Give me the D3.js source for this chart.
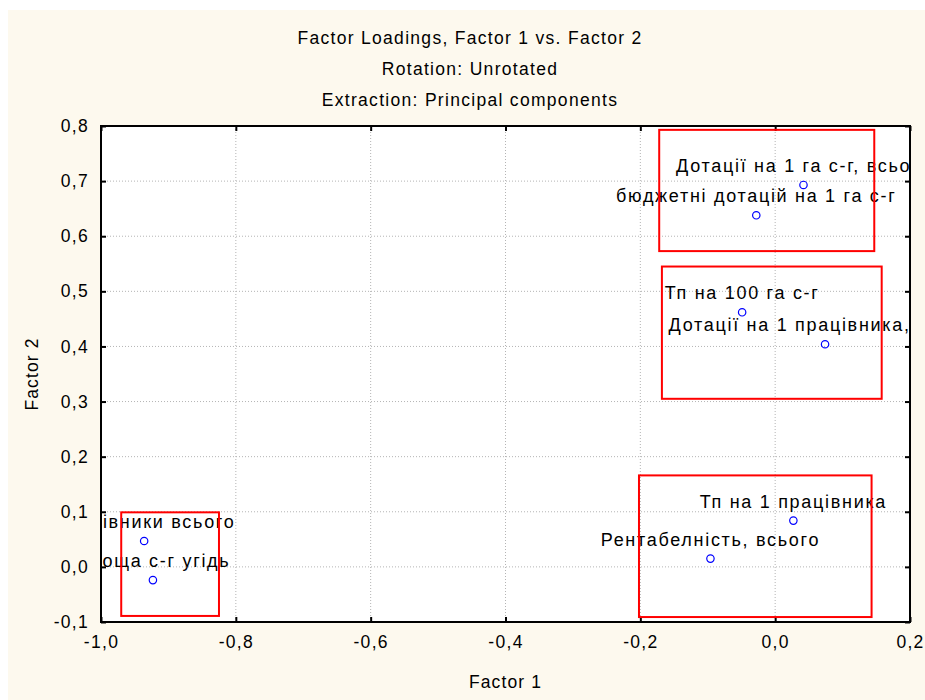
<!DOCTYPE html>
<html>
<head>
<meta charset="utf-8">
<script src="https://cdn.jsdelivr.net/npm/d3@7"></script>
<style>
  body { margin: 0; background: #fff; }
  text { font-family: "Liberation Sans", Arial, sans-serif; }
</style>
</head>
<body>
<svg></svg>
<script>
// factor loadings
let labels   = ["Дотації на 1 га с-г, всього", "бюджетні дотацій на 1 га с-г", "Тп на 100 га с-г",
                "Дотації на 1 працівника, всього", "Тп на 1 працівника", "Рентабелність, всього",
                "Працівники всього", "Площа с-г угідь"],
    factor1  = [0.042, -0.028, -0.049, 0.074, 0.027, -0.096, -0.936, -0.923],
    factor2  = [0.693, 0.638, 0.462, 0.404, 0.084, 0.015, 0.047, -0.024];

// red grouping boxes: [x0, x1, yTop, yBottom]
let boxX0 = [-0.172, -0.168, -0.202, -0.970],
    boxX1 = [0.147, 0.158, 0.143, -0.825],
    boxY0 = [0.793, 0.545, 0.166, 0.099],
    boxY1 = [0.573, 0.305, -0.091, -0.089];

let xTicks = [-1.0, -0.8, -0.6, -0.4, -0.2, 0.0, 0.2],
    yTicks = [-0.1, 0.0, 0.1, 0.2, 0.3, 0.4, 0.5, 0.6, 0.7, 0.8];

let width = 925, height = 700,
    pLeft = 101, pRight = 910, pTop = 126, pBottom = 622,
    fmt = d => d3.format(".1f")(d).replace(".", ",").replace("−", "-");

let xScale = d3.scaleLinear().domain([-1.0, 0.2]).range([pLeft, pRight]),
    yScale = d3.scaleLinear().domain([-0.1, 0.8]).range([pBottom, pTop]);

let svg = d3.select("svg").attr("width", width).attr("height", height);

svg.append("rect")
  .attr("x", 8).attr("y", 10)
  .attr("width", width - 8).attr("height", height - 10)
  .attr("fill", "#fdf9ee");

svg.append("rect")
  .attr("x", pLeft).attr("y", pTop)
  .attr("width", pRight - pLeft).attr("height", pBottom - pTop)
  .attr("fill", "#fff");

svg.append("clipPath").attr("id", "plot")
  .append("rect")
  .attr("x", pLeft + 1).attr("y", pTop)
  .attr("width", pRight - pLeft - 1).attr("height", pBottom - pTop);

// grid
let grid = svg.append("g").attr("stroke", "#b4b4b4").attr("stroke-dasharray", "1,2").attr("stroke-width", 1);
grid.selectAll(".gx").data(xTicks.slice(1, -1)).enter().append("line")
  .attr("x1", d => xScale(d)).attr("x2", d => xScale(d))
  .attr("y1", pTop).attr("y2", pBottom);
grid.selectAll(".gy").data(yTicks.slice(1, -1)).enter().append("line")
  .attr("y1", d => yScale(d)).attr("y2", d => yScale(d))
  .attr("x1", pLeft).attr("x2", pRight);

// axes, ticks pointing inward
let xAxis = d3.axisBottom(xScale).tickValues(xTicks).tickFormat(fmt).tickSize(-5).tickSizeOuter(0).tickPadding(14),
    yAxis = d3.axisLeft(yScale).tickValues(yTicks).tickFormat(fmt).tickSize(-5).tickSizeOuter(0).tickPadding(12);

let gx = svg.append("g").attr("transform", `translate(0,${pBottom})`).call(xAxis);
let gy = svg.append("g").attr("transform", `translate(${pLeft},0)`).call(yAxis);
let gxt = svg.append("g").attr("transform", `translate(0,${pTop})`)
  .call(d3.axisTop(xScale).tickValues(xTicks).tickSize(-5).tickSizeOuter(0).tickFormat(""));
let gyr = svg.append("g").attr("transform", `translate(${pRight},0)`)
  .call(d3.axisRight(yScale).tickValues(yTicks).tickSize(-5).tickSizeOuter(0).tickFormat(""));

[gx, gy, gxt, gyr].forEach(g => {
  g.select(".domain").remove();
  g.selectAll(".tick line").attr("stroke", "#000").attr("stroke-width", 2);
  g.selectAll("text").style("font-size", "17.5px").style("letter-spacing", "1.3px").attr("fill", "#000")
    .style("font-family", "'Liberation Sans', Arial, sans-serif");
});

// labels (clipped to plot)
svg.append("g").attr("clip-path", "url(#plot)")
  .selectAll("text").data(labels).enter().append("text")
  .attr("x", (d, i) => xScale(factor1[i]))
  .attr("y", (d, i) => yScale(factor2[i]) - 13)
  .attr("text-anchor", "middle")
  .style("font-size", "18px")
  .style("letter-spacing", "1.7px")
  .text(d => d);

// red boxes
svg.append("g").selectAll("rect").data(boxX0).enter().append("rect")
  .attr("x", (d, i) => xScale(boxX0[i]))
  .attr("y", (d, i) => yScale(boxY0[i]))
  .attr("width", (d, i) => xScale(boxX1[i]) - xScale(boxX0[i]))
  .attr("height", (d, i) => yScale(boxY1[i]) - yScale(boxY0[i]))
  .attr("fill", "none").attr("stroke", "#ff0000").attr("stroke-width", 2);

// points
svg.append("g").selectAll("circle").data(labels).enter().append("circle")
  .attr("cx", (d, i) => xScale(factor1[i]))
  .attr("cy", (d, i) => yScale(factor2[i]))
  .attr("r", 3.7)
  .attr("fill", "none").attr("stroke", "#0000ff").attr("stroke-width", 1.2);

// frame
svg.append("rect")
  .attr("x", pLeft).attr("y", pTop)
  .attr("width", pRight - pLeft).attr("height", pBottom - pTop)
  .attr("fill", "none").attr("stroke", "#000").attr("stroke-width", 2);

// titles
let titles = ["Factor Loadings, Factor 1 vs. Factor 2", "Rotation: Unrotated", "Extraction: Principal components"];
svg.append("g").selectAll("text").data(titles).enter().append("text")
  .attr("x", 470)
  .attr("y", (d, i) => 43.5 + i * 31)
  .attr("text-anchor", "middle")
  .style("font-size", "17.5px")
  .style("letter-spacing", "1.3px")
  .text(d => d);

svg.append("text")
  .attr("x", (pLeft + pRight) / 2)
  .attr("y", 688)
  .attr("text-anchor", "middle")
  .style("font-size", "17.5px")
  .style("letter-spacing", "1.1px")
  .text("Factor 1");

svg.append("text")
  .attr("transform", `translate(38,${(pTop + pBottom) / 2}) rotate(-90)`)
  .attr("text-anchor", "middle")
  .style("font-size", "17.5px")
  .style("letter-spacing", "1.1px")
  .text("Factor 2");
</script>
</body>
</html>
